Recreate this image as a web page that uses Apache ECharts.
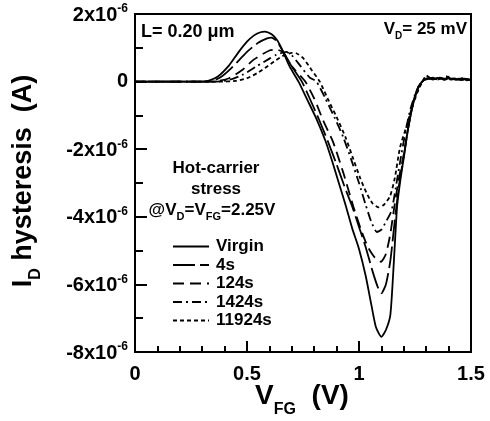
<!DOCTYPE html>
<html>
<head>
<meta charset="utf-8">
<script src="https://cdn.jsdelivr.net/npm/echarts@6/dist/echarts.min.js"></script>
<style>
  html, body { margin: 0; padding: 0; background: #fff; }
  #chart { width: 490px; height: 421px; }
</style>
</head>
<body>
<div id="chart"></div>
<script>
// values: [V_FG (V), I_D hysteresis (x1e-6 A)]
var virginData = [[0,0],[0.30,0],[0.33,0.03],[0.37,0.15],[0.42,0.48],[0.46,0.85],[0.50,1.18],[0.53,1.36],[0.56,1.46],[0.58,1.48],
    [0.61,1.40],[0.635,1.22],[0.66,0.90],[0.69,0.45],[0.73,0],[0.77,-0.55],[0.81,-1.1],[0.85,-1.75],[0.88,-2.35],[0.91,-3.0],
    [0.94,-3.65],[0.97,-4.35],[1.00,-4.95],[1.03,-5.75],[1.055,-6.6],[1.075,-7.25],[1.10,-7.55],[1.12,-7.35],[1.14,-6.9],
    [1.155,-5.4],[1.17,-3.7],[1.185,-2.9],[1.20,-2.25],[1.22,-1.35],[1.245,-0.55],[1.265,-0.15],[1.285,0.02],[1.30,0.08],
    [1.32,0.1],[1.34,0.08],[1.36,0.12],[1.38,0.05],[1.40,0.1],[1.42,0.08],[1.44,0.06],[1.46,0.1],[1.48,0.04],[1.50,0.05]];
var s4Data = [[0,0],[0.33,0],[0.38,0.12],[0.43,0.4],[0.50,0.88],[0.55,1.15],[0.59,1.28],[0.61,1.30],[0.635,1.18],[0.66,0.90],
    [0.70,0.45],[0.745,0],[0.78,-0.5],[0.82,-1.1],[0.86,-1.75],[0.90,-2.45],[0.935,-3.1],[0.97,-3.7],[1.00,-4.3],[1.03,-4.9],
    [1.06,-5.6],[1.085,-6.1],[1.10,-6.26],[1.12,-6.0],[1.14,-5.3],[1.16,-4.1],[1.18,-3.0],[1.20,-2.2],[1.22,-1.35],[1.245,-0.55],
    [1.27,-0.1],[1.29,0.05],[1.31,0.1],[1.33,0.06],[1.35,0.1],[1.37,0.08],[1.39,0.14],[1.41,0.06],[1.43,0.09],[1.45,0.05],
    [1.47,0.08],[1.50,0.04]];
var s124Data = [[0,0],[0.35,0],[0.42,0.1],[0.48,0.35],[0.53,0.65],[0.60,0.92],[0.63,0.95],[0.66,0.87],[0.70,0.45],[0.76,0],
    [0.80,-0.5],[0.84,-1.15],[0.885,-1.8],[0.93,-2.7],[0.975,-3.7],[1.01,-4.4],[1.04,-4.9],[1.07,-5.2],[1.098,-5.33],[1.12,-5.1],
    [1.14,-4.5],[1.16,-3.6],[1.18,-2.8],[1.20,-2.15],[1.22,-1.35],[1.245,-0.55],[1.27,-0.1],[1.29,0.05],[1.31,0.08],[1.33,0.1],
    [1.35,0.06],[1.37,0.1],[1.39,0.08],[1.41,0.15],[1.43,0.06],[1.45,0.08],[1.47,0.04],[1.50,0.06]];
var s1424Data = [[0,0],[0.36,0],[0.42,0.05],[0.48,0.2],[0.54,0.44],[0.60,0.68],[0.63,0.79],[0.675,0.88],[0.70,0.78],[0.74,0.45],
    [0.78,0.12],[0.81,0],[0.85,-0.5],[0.89,-1.05],[0.93,-1.65],[0.965,-2.3],[1.00,-3.0],[1.03,-3.65],[1.055,-4.15],[1.08,-4.45],
    [1.10,-4.38],[1.12,-4.15],[1.146,-3.8],[1.17,-2.9],[1.19,-2.12],[1.21,-1.4],[1.23,-0.8],[1.255,-0.3],[1.28,0],[1.295,0.1],
    [1.31,0.08],[1.33,0.12],[1.35,0.06],[1.37,0.1],[1.39,0.16],[1.41,0.08],[1.43,0.1],[1.45,0.06],[1.47,0.09],[1.50,0.05]];
var s11924Data = [[0,0],[0.38,0],[0.45,0.02],[0.50,0.1],[0.545,0.25],[0.58,0.4],[0.62,0.59],[0.66,0.76],[0.70,0.85],[0.72,0.84],
    [0.75,0.7],[0.79,0.33],[0.825,0],[0.86,-0.5],[0.90,-1.05],[0.94,-1.65],[0.975,-2.3],[1.005,-2.85],[1.034,-3.3],
    [1.06,-3.6],[1.086,-3.72],[1.11,-3.65],[1.138,-3.4],[1.16,-2.85],[1.183,-1.95],[1.213,-1.3],[1.24,-0.7],[1.265,-0.25],
    [1.29,0.08],[1.30,0.18],[1.32,0.1],[1.34,0.08],[1.36,0.12],[1.38,0.06],[1.40,0.15],[1.42,0.07],[1.44,0.1],[1.46,0.05],
    [1.48,0.08],[1.50,0.05]];
var seriesNames = ['Virgin', '4s', '124s', '1424s', '11924s'];
var seriesData = [virginData, s4Data, s124Data, s1424Data, s11924Data];
var dashTypes = ['solid', [22, 5], [11, 6], [9, 4, 2, 4], [4, 3]];

var FONT = '"Liberation Sans", Arial, sans-serif';

var chart = echarts.init(document.getElementById('chart'));

var series = seriesNames.map(function (name, i) {
    return {
        name: name,
        type: 'line',
        data: seriesData[i],
        symbol: 'none',
        smooth: 0.2,
        color: '#000',
        lineStyle: {color: '#000', width: 1.8, type: dashTypes[i]},
        z: 5 - i
    };
});

// bold text with a sub- or superscript part, used for all annotations
function richStyle(size, subSize, lift) {
    return {
        b: {fontFamily: FONT, fontWeight: 'bold', fontSize: size, fill: '#000', verticalAlign: 'bottom', padding: [0, 0, lift, 0]},
        s: {fontFamily: FONT, fontWeight: 'bold', fontSize: subSize, fill: '#000', verticalAlign: 'bottom'}
    };
}

var option = {
    backgroundColor: '#fff',
    animation: false,
    grid: {
        left: 135, top: 14, right: 19, bottom: 69,
        show: true, borderColor: '#000', borderWidth: 2, backgroundColor: 'transparent'
    },
    legend: {
        orient: 'vertical',
        left: 167, top: 233,
        itemWidth: 36, itemHeight: 14, itemGap: 1.5,
        data: seriesNames,
        itemStyle: {opacity: 0},
        textStyle: {fontFamily: FONT, fontWeight: 'bold', fontSize: 17, lineHeight: 14, color: '#000', padding: [0, 0, 0, 2]}
    },
    xAxis: {
        type: 'value',
        min: 0, max: 1.5, interval: 0.5,
        axisLine: {show: true, onZero: false, lineStyle: {color: '#000', width: 2}},
        axisTick: {show: true, inside: true, length: 11, lineStyle: {color: '#000', width: 2}},
        minorTick: {show: true, splitNumber: 5, length: 6, lineStyle: {color: '#000', width: 2}},
        splitLine: {show: false},
        axisLabel: {
            margin: 12, fontFamily: FONT, fontWeight: 'bold', fontSize: 20, color: '#000',
            formatter: function (v) { return String(v); }
        }
    },
    yAxis: {
        type: 'value',
        min: -8, max: 2, interval: 2,
        axisLine: {show: true, onZero: false, lineStyle: {color: '#000', width: 2}},
        axisTick: {show: true, inside: true, length: 12, lineStyle: {color: '#000', width: 2}},
        minorTick: {show: true, splitNumber: 2, length: 8, lineStyle: {color: '#000', width: 2}},
        splitLine: {show: false},
        axisLabel: {
            margin: 7, color: '#000',
            formatter: function (v) {
                if (v === 0) return '{m|0}';
                return '{m|' + v + 'x10}{s|-6}';
            },
            rich: {
                m: {fontFamily: FONT, fontWeight: 'bold', fontSize: 20, color: '#000', verticalAlign: 'bottom'},
                s: {fontFamily: FONT, fontWeight: 'bold', fontSize: 12, color: '#000', verticalAlign: 'bottom', padding: [0, 0, 10, 0]}
            }
        }
    },
    graphic: [
        {
            type: 'text', x: 141, y: 32,
            style: {
                text: 'L= 0.20 \u03bcm', verticalAlign: 'middle',
                fontFamily: FONT, fontWeight: 'bold', fontSize: 18, fill: '#000'
            }
        },
        {
            type: 'text', x: 467, y: 31,
            style: {text: '{b|V}{s|D}{b|= 25 mV}', align: 'right', verticalAlign: 'middle', rich: richStyle(17, 10, 4)}
        },
        {
            type: 'text', x: 216, y: 168,
            style: {
                text: 'Hot-carrier', align: 'center', verticalAlign: 'middle',
                fontFamily: FONT, fontWeight: 'bold', fontSize: 17, fill: '#000'
            }
        },
        {
            type: 'text', x: 216, y: 189,
            style: {
                text: 'stress', align: 'center', verticalAlign: 'middle',
                fontFamily: FONT, fontWeight: 'bold', fontSize: 17, fill: '#000'
            }
        },
        {
            type: 'text', x: 212, y: 212,
            style: {text: '{b|@V}{s|D}{b|=V}{s|FG}{b|=2.25V}', align: 'center', verticalAlign: 'middle', rich: richStyle(17, 11, 4)}
        },
        {
            type: 'text', x: 302, y: 400,
            style: {text: '{b|V}{s|FG}{b|  (V)}', align: 'center', verticalAlign: 'middle', rich: richStyle(28, 16, 7)}
        },
        {
            type: 'text', x: 27, y: 181, rotation: Math.PI / 2,
            style: {text: '{b|I}{s|D}{b| hysteresis  (A)}', align: 'center', verticalAlign: 'middle', rich: richStyle(27, 16, 7)}
        }
    ],
    series: series
};

chart.setOption(option);
</script>
</body>
</html>
